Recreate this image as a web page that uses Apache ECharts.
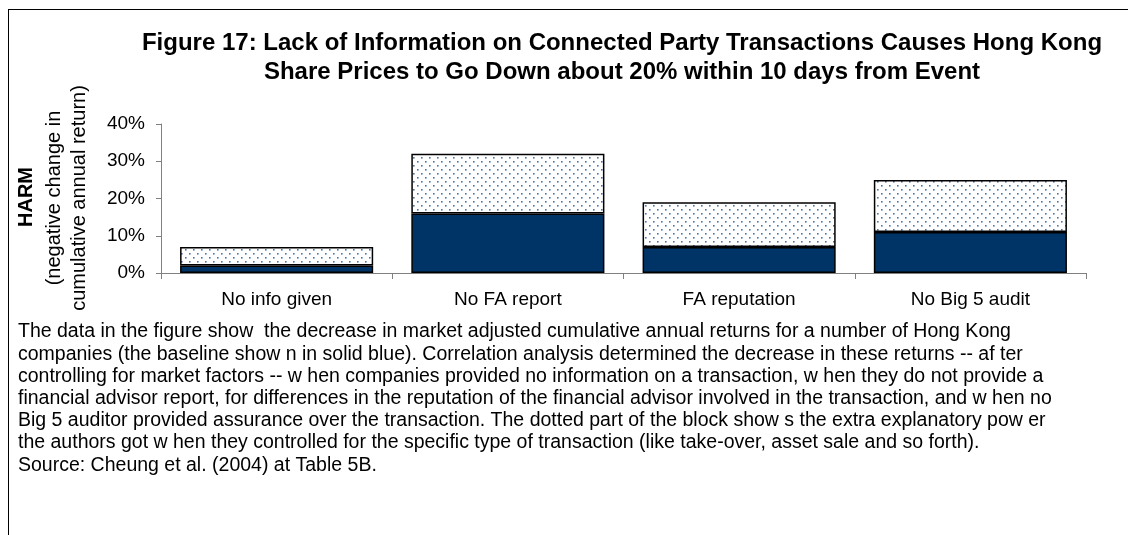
<!DOCTYPE html>
<html><head><meta charset="utf-8">
<script src="https://cdn.jsdelivr.net/npm/echarts@6/dist/echarts.min.js"></script>
<style>html,body{margin:0;padding:0;background:#fff}#c{width:1128px;height:535px}</style>
</head><body><div id="c"></div>
<script>
const categories = ['No info given', 'No FA report', 'FA reputation', 'No Big 5 audit'];
const baseline = [2, 16, 7, 11];
const extra = [5, 16, 12, 14];
const yTicks = [0, 10, 20, 30, 40];
const titleLines = [
  'Figure 17: Lack of Information on Connected Party Transactions Causes Hong Kong',
  'Share Prices to Go Down about 20% within 10 days from Event'
];
const noteLines = [
  'The data in the figure show  the decrease in market adjusted cumulative annual returns for a number of Hong Kong',
  'companies (the baseline show n in solid blue). Correlation analysis determined the decrease in these returns -- af ter',
  'controlling for market factors -- w hen companies provided no information on a transaction, w hen they do not provide a',
  'financial advisor report, for differences in the reputation of the financial advisor involved in the transaction, and w hen no',
  'Big 5 auditor provided assurance over the transaction. The dotted part of the block show s the extra explanatory pow er',
  'the authors got w hen they controlled for the specific type of transaction (like take-over, asset sale and so forth).',
  'Source: Cheung et al. (2004) at Table 5B.'
];

const pc = document.createElement('canvas');
pc.width = 8; pc.height = 8;
const pctx = pc.getContext('2d');
pctx.fillStyle = '#ffffff'; pctx.fillRect(0,0,8,8);
pctx.fillStyle = '#4f76a8';
pctx.fillRect(1,1,1.6,1.6);
pctx.fillRect(5,5,1.6,1.6);

const chart = echarts.init(document.getElementById('c'), null, {renderer:'canvas'});
const F = '"Liberation Sans", Arial, sans-serif';
const graphics = [
  {type:'line', shape:{x1:8,y1:9.5,x2:1128,y2:9.5}, style:{stroke:'#000',lineWidth:1}},
  {type:'line', shape:{x1:8.5,y1:9,x2:8.5,y2:535}, style:{stroke:'#000',lineWidth:1}},
  {type:'text', x:26, y:197, rotation:Math.PI/2, style:{text:'HARM', font:'bold 20px '+F, fill:'#000', textAlign:'center', textVerticalAlign:'middle'}},
  {type:'text', x:54, y:198, rotation:Math.PI/2, style:{text:'(negative change in', font:'20px '+F, fill:'#000', textAlign:'center', textVerticalAlign:'middle'}},
  {type:'text', x:79, y:198, rotation:Math.PI/2, style:{text:'cumulative annual return)', font:'20px '+F, fill:'#000', textAlign:'center', textVerticalAlign:'middle'}}
];
titleLines.forEach((t,i)=>graphics.push({type:'text', x:622, y:43+i*29, style:{text:t, font:'bold 24px '+F, fill:'#000', textAlign:'center', textVerticalAlign:'middle'}}));
noteLines.forEach((t,i)=>graphics.push({type:'text', x:18, y:332+i*22.2, style:{text:t, font:'19.5px '+F, fill:'#000', textAlign:'left', textVerticalAlign:'middle'}}));

chart.setOption({
  animation:false,
  grid:{left:161, right:42, top:124, bottom:262},
  xAxis:{type:'category', data:categories,
    axisLine:{lineStyle:{color:'#808080', width:1}},
    axisTick:{show:true, alignWithLabel:false, length:6, lineStyle:{color:'#808080'}},
    axisLabel:{color:'#000', fontSize:19, fontFamily:F, margin:17}},
  yAxis:{type:'value', min:0, max:40, interval:10,
    axisLine:{show:true, lineStyle:{color:'#808080', width:1}},
    axisTick:{show:true, length:5, lineStyle:{color:'#808080'}},
    splitLine:{show:false},
    axisLabel:{color:'#000', fontSize:19, fontFamily:F, margin:16, formatter:v=>v+'%'}},
  series:[
    {type:'bar', stack:'a', data:baseline, barCategoryGap:'16.5%',
      itemStyle:{color:'#003366', borderColor:'#000', borderWidth:1.5}},
    {type:'bar', stack:'a', data:extra,
      itemStyle:{color:{image:pc, repeat:'repeat'}, borderColor:'#000', borderWidth:1.5}}
  ],
  graphic:graphics
});
</script></body></html>
